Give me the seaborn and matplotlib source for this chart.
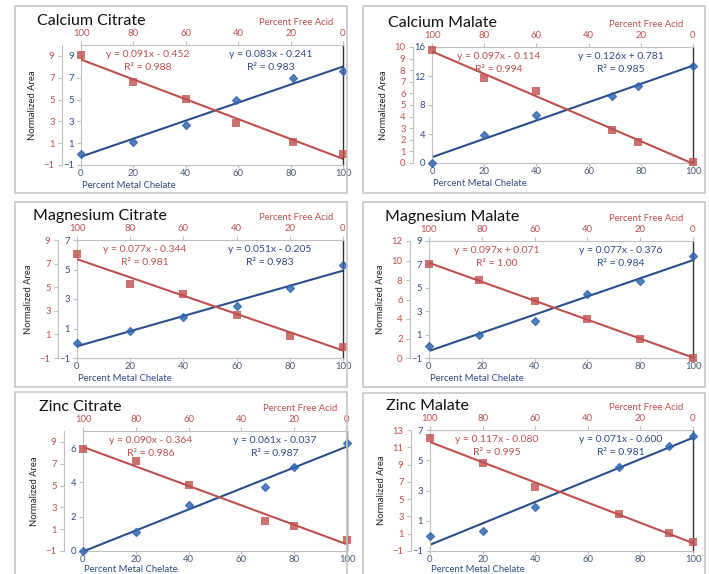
import matplotlib
matplotlib.use("Agg")
import matplotlib.pyplot as plt
import seaborn as sns
from matplotlib.patches import Rectangle

# ---- data ----
titles = ["Calcium Citrate", "Calcium Malate", "Magnesium Citrate",
          "Magnesium Malate", "Zinc Citrate", "Zinc Malate"]

# red squares: normalized area vs percent free acid (top axis)
acid_x = [
    [100, 80, 60, 41, 19, 0],
    [100, 80, 60, 31, 21, 0],
    [100, 80, 60, 40, 20, 0],
    [100, 81, 60, 40, 20, 0],
    [100, 80, 60, 31, 20, 0],
    [100, 80, 60, 28, 9, 0],
]
acid_y = [
    [9.10, 6.57, 5.03, 2.85, 1.12, 0.02],
    [9.71, 7.34, 6.17, 2.86, 1.77, 0.06],
    [7.82, 5.25, 4.46, 2.66, 0.89, -0.04],
    [9.69, 7.99, 5.85, 3.98, 2.00, 0.00],
    [8.33, 7.21, 5.06, 1.76, 1.33, -0.03],
    [12.04, 9.13, 6.36, 3.26, 1.07, 0.04],
]
# blue diamonds: normalized area vs percent metal chelate (bottom axis)
chelate_x = [
    [0, 20, 40, 59, 81, 100],
    [0, 20, 40, 69, 79, 100],
    [0, 20, 40, 60, 80, 100],
    [0, 19, 40, 60, 80, 100],
    [0, 20, 40, 69, 80, 100],
    [0, 20, 40, 72, 91, 100],
]
chelate_y = [
    [0.00, 1.15, 2.66, 4.97, 6.94, 7.65],
    [0.00, 3.89, 6.67, 9.23, 10.60, 13.35],
    [-0.01, 0.85, 1.77, 2.51, 3.75, 5.28],
    [-0.01, 0.98, 2.14, 4.47, 5.54, 7.70],
    [0.00, 1.12, 2.71, 3.73, 4.88, 6.31],
    [0.01, 0.29, 1.92, 4.57, 5.95, 6.59],
]

red_eq = ["y = 0.091x - 0.452", "y = 0.097x - 0.114", "y = 0.077x - 0.344",
          "y = 0.097x + 0.071", "y = 0.090x - 0.364", "y = 0.117x - 0.080"]
red_r2 = ["0.988", "0.994", "0.981", "1.00", "0.986", "0.995"]
blue_eq = ["y = 0.083x - 0.241", "y = 0.126x + 0.781", "y = 0.051x - 0.205",
           "y = 0.077x - 0.376", "y = 0.061x - 0.037", "y = 0.071x - 0.600"]
blue_r2 = ["0.983", "0.985", "0.983", "0.984", "0.987", "0.981"]

red_lim = [(-1, 10), (0, 10), (-1, 9), (0, 12), (-1, 10), (-1, 13)]
red_ticks = [range(-1, 10, 2), range(0, 11, 1), range(-1, 10, 2),
             range(0, 13, 2), range(-1, 10, 2), range(-1, 14, 2)]
blue_lim = [(-1, 10), (0, 16), (-1, 7), (-1, 9), (0, 7), (-1, 7)]
blue_ticks = [range(-1, 10, 2), range(0, 17, 4), range(-1, 8, 2),
              range(-1, 10, 2), range(0, 7, 2), range(-1, 8, 2)]
pct_ticks = [0, 20, 40, 60, 80, 100]

RED = "#C0504D"
BLUE_LINE = "#2B4F8C"
BLUE_MK = "#2E62B0"
BLUE_TXT = "#2F4B84"
GRAY = "#BFBFBF"

sns.set_style("ticks")
plt.rcParams['font.family'] = ['Lato', 'DejaVu Sans']

W, H = 709, 574
fig = plt.figure(figsize=(W / 100, H / 100), dpi=100)

# layout in pixels: plot area (left, top, right, bottom) and panel frame
ax_px = [(81, 45, 343, 165), (432, 47, 693, 163), (77, 240, 343, 358),
         (429, 241, 693, 358), (83, 431, 347, 551), (430, 430, 693, 551)]
box_px = [(15, 6, 347, 193), (363, 6, 705, 193), (15, 202, 347, 387),
          (363, 202, 705, 387), (15, 392, 347, 590), (363, 393, 705, 590)]

for (x0, y0, x1, y1) in box_px:
    fig.patches.append(Rectangle((x0 / W, 1 - y1 / H), (x1 - x0) / W, (y1 - y0) / H,
                                 transform=fig.transFigure, fill=False,
                                 edgecolor="#C8C8C8", lw=1.2))

for i in range(6):
    l, t, r, b = ax_px[i]
    rect = [l / W, 1 - b / H, (r - l) / W, (b - t) / H]
    ax_b = fig.add_axes(rect, label=f"blue{i}")
    ax_r = fig.add_axes(rect, label=f"red{i}")
    ax_r.patch.set_visible(False)

    sns.regplot(x=chelate_x[i], y=chelate_y[i], ax=ax_b, ci=None, marker="D",
                color=BLUE_LINE,
                scatter_kws=dict(s=16, color=BLUE_MK, clip_on=False, zorder=3),
                line_kws=dict(lw=1.5))
    sns.regplot(x=acid_x[i], y=acid_y[i], ax=ax_r, ci=None, marker="s",
                color=RED,
                scatter_kws=dict(s=30, color=RED, clip_on=False, zorder=3, linewidths=0),
                line_kws=dict(lw=1.5))

    # bottom / inner axis (blue series)
    ax_b.set_xlim(0, 100)
    ax_b.set_ylim(*blue_lim[i])
    ax_b.set_xticks(pct_ticks)
    ax_b.set_yticks(list(blue_ticks[i]))
    ax_b.set_xlabel("")
    ax_b.set_ylabel("")
    ax_b.tick_params(axis="x", labelsize=6.8, labelcolor="#4A5A78", color=GRAY,
                     length=2, pad=1)
    ax_b.tick_params(axis="y", labelsize=6.8, labelcolor=BLUE_TXT, color=GRAY,
                     length=3, pad=2)
    ax_b.spines["top"].set_visible(False)
    ax_b.spines["right"].set_visible(True)
    ax_b.spines["right"].set_color("#333333")
    ax_b.spines["right"].set_linewidth(1.0)
    for s in ("left", "bottom"):
        ax_b.spines[s].set_color(GRAY)

    # top / outer axis (red series)
    ax_r.set_xlim(100, 0)
    ax_r.set_ylim(*red_lim[i])
    ax_r.set_xticks(pct_ticks)
    ax_r.set_yticks(list(red_ticks[i]))
    ax_r.set_xlabel("")
    ax_r.set_ylabel("")
    ax_r.xaxis.tick_top()
    ax_r.yaxis.tick_left()
    ax_r.spines["left"].set_position(("outward", 14))
    ax_r.spines["right"].set_visible(False)
    ax_r.spines["bottom"].set_visible(False)
    ax_r.spines["top"].set_visible(True)
    for s in ("left", "top"):
        ax_r.spines[s].set_color(GRAY)
    ax_r.tick_params(axis="both", labelsize=6.8, labelcolor=RED, color=GRAY,
                     length=3, pad=2)

    # equations
    ax_r.text(0.255, 0.92, red_eq[i], transform=ax_r.transAxes, ha="center",
              va="center", fontsize=7.5, color=RED)
    ax_r.text(0.255, 0.81, f"R² = {red_r2[i]}", transform=ax_r.transAxes,
              ha="center", va="center", fontsize=7.5, color=RED)
    ax_r.text(0.725, 0.92, blue_eq[i], transform=ax_r.transAxes, ha="center",
              va="center", fontsize=7.5, color=BLUE_TXT)
    ax_r.text(0.725, 0.81, f"R² = {blue_r2[i]}", transform=ax_r.transAxes,
              ha="center", va="center", fontsize=7.5, color=BLUE_TXT)

    # labels
    dy = -13.2 if i >= 4 else -14.5
    ax_b.annotate("Percent Metal Chelate", xy=(0, 0), xycoords="axes fraction",
                  xytext=(1, dy), textcoords="offset points", ha="left",
                  va="center", fontsize=6.8, color=BLUE_TXT)
    ax_b.annotate("Normalized Area", xy=(0, 0.5), xycoords="axes fraction",
                  xytext=(-35, 0), textcoords="offset points", ha="center",
                  va="center", rotation=90, fontsize=6.8, color="#222222")
    ax_b.annotate("Percent Free Acid", xy=(1, 1), xycoords="axes fraction",
                  xytext=(-7, 16.5), textcoords="offset points", ha="right",
                  va="center", fontsize=6.8, color=RED)
    fig.text((l - 44) / W, 1 - (t - 24) / H, titles[i], ha="left", va="center",
             fontsize=11.5, color="#111111")

fig.savefig("out.png", dpi=100)
